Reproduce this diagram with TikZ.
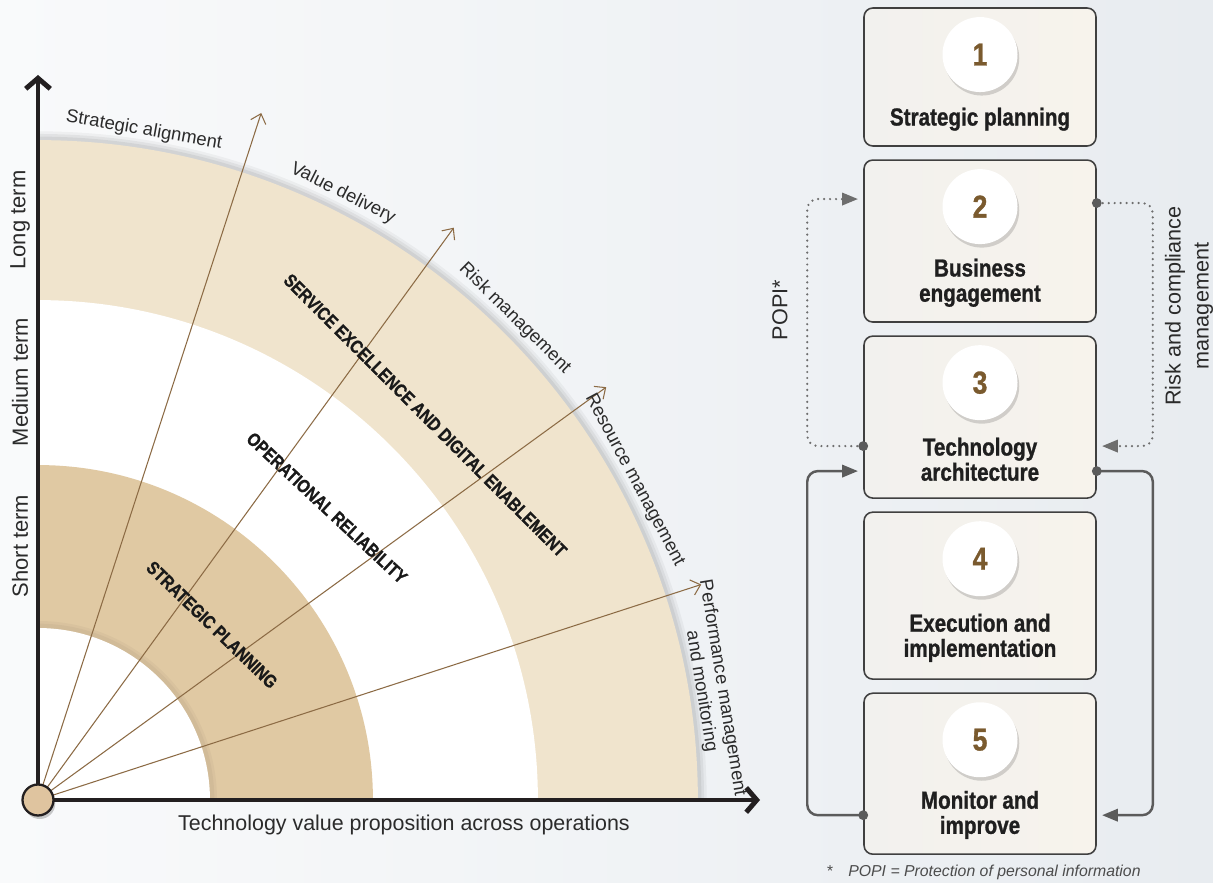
\documentclass[tikz,border=0pt]{standalone}
\usepackage{fontspec}
\setmainfont{Liberation Sans}
\newfontfamily\condfont[FakeStretch=0.84, BoldFont={Liberation Sans Bold}, BoldFeatures={FakeBold=1}]{Liberation Sans}
\usepackage{tikz}
\usetikzlibrary{calc,arrows.meta,positioning,shadows}

\definecolor{bandlight}{HTML}{F0E4CD}
\definecolor{banddark}{HTML}{E0C9A3}
\definecolor{raybrown}{HTML}{8C6B45}
\definecolor{numbrown}{HTML}{7A5A2E}
\definecolor{linegrey}{HTML}{5B5B5B}
\definecolor{dotgrey}{HTML}{6E6E6E}
\definecolor{textgrey}{HTML}{2B2B2B}
\definecolor{axisblack}{HTML}{231F20}
\definecolor{bgleft}{HTML}{F9FAFB}
\definecolor{bgright}{HTML}{E8ECF0}
\definecolor{boxleft}{HTML}{F2F1EE}
\definecolor{boxright}{HTML}{F7F3EC}

\tikzset{
  ray/.style={raybrown, line width=0.6pt, -{Straight Barb[length=5pt,width=9pt]}},
  axisline/.style={axisblack, line width=2.8pt, -{Straight Barb[length=6pt,width=14pt,line width=2.8pt]}},
  arclabel/.style={font=\fontsize{10.5}{12}\selectfont, text=textgrey, inner sep=0pt, align=center},
  bandlabel/.style={font=\condfont\bfseries\fontsize{10.5}{12}\selectfont, text=black!90, inner sep=0pt},
  axislabel/.style={font=\fontsize{12.5}{14}\selectfont, text=textgrey, inner sep=0pt},
  stepbox/.style={draw=black!75, line width=0.9pt, rounded corners=5pt, left color=boxleft, right color=boxright, minimum width=4.64cm, inner sep=0pt},
  numdisc/.style={circle, fill=white, minimum size=1.5cm, inner sep=0pt, font=\condfont\bfseries\fontsize{18}{18}\selectfont, text=numbrown,
    drop shadow={shadow xshift=1pt, shadow yshift=-2pt, opacity=0.15, fill=black}},
  steplabel/.style={font=\condfont\bfseries\fontsize{14}{14.3}\selectfont, text=black!88, align=center, inner sep=0pt},
  sidelabel/.style={font=\fontsize{12.3}{15.9}\selectfont, text=textgrey, align=center, inner sep=0pt, rotate=90},
  solidlink/.style={linegrey, line width=1.4pt, rounded corners=6pt, -{Triangle[length=9pt,width=7pt]}, shorten >=3pt},
  dotlink/.style={dotgrey, line width=1.4pt, line cap=round, dash pattern=on 0pt off 3.4pt, rounded corners=6pt, -{Triangle[length=9pt,width=7pt]}, shorten >=3pt},
}

\begin{document}
\begin{tikzpicture}[x=0.02cm, y=0.02cm]
\useasboundingbox (0,0) rectangle (1213,882);
\shade[left color=bgleft, right color=bgright] (0,0) rectangle (1213,882);

\coordinate (O) at (38,82);
%% 外圈的阴影
\foreach \w/\o in {10pt/0.04, 7pt/0.05, 4pt/0.06}{
  \draw[black, opacity=\o, line width=\w] ($(O)+(0:13.2cm)$) arc[start angle=0, end angle=90, radius=13.2cm];
}
%% 四分之一圆环, 从外往里画
\fill[bandlight] (O) -- ($(O)+(0:13.2cm)$) arc[start angle=0, end angle=90, radius=13.2cm] -- cycle;
\fill[white] (O) -- ($(O)+(0:10cm)$) arc[start angle=0, end angle=90, radius=10cm] -- cycle;
\fill[banddark] (O) -- ($(O)+(0:6.7cm)$) arc[start angle=0, end angle=90, radius=6.7cm] -- cycle;
\foreach \w/\o in {8pt/0.05, 5pt/0.06}{
  \draw[black!60!banddark, opacity=\o, line width=\w] ($(O)+(0:3.44cm)$) arc[start angle=0, end angle=90, radius=3.44cm];
}
\fill[white] (O) -- ($(O)+(0:3.44cm)$) arc[start angle=0, end angle=90, radius=3.44cm] -- cycle;

%% 射线 角度/长度
\foreach \a/\r [count=\k] in {72/14.45, 54/14.15, 36/14.05, 18/13.95}{
  \coordinate (r\k) at ($(O)+(\a:\r cm)$);
  \draw[ray] (O) -- (r\k);
}

%% 圆弧外的标签
\node[arclabel, rotate=-10] (la1) at ($(O)+(81:13.56cm)$) {Strategic alignment};
\node[arclabel, rotate=-26.7] (la2) at ($(O)+(63.3:13.58cm)$) {Value delivery};
\node[arclabel, rotate=-44.7] (la3) at ($(O)+(45.3:13.56cm)$) {Risk management};
\node[arclabel, rotate=-61.8] (la4) at ($(O)+(28.2:13.54cm)$) {Resource management};
\node[arclabel, rotate=-80.7] (la5) at ($(O)+(9.3:13.66cm)$) {Performance management\\and monitoring};

%% 圆环上的标题
\node[bandlabel, rotate=-45] (bl1) at ($(O)+(44.8:10.92cm)$) {SERVICE EXCELLENCE AND DIGITAL ENABLEMENT};
\node[bandlabel, rotate=-43] (bl2) at ($(O)+(45.3:8.22cm)$) {OPERATIONAL RELIABILITY};
\node[bandlabel, rotate=-44] (bl3) at ($(O)+(45.2:4.94cm)$) {STRATEGIC PLANNING};

%% 坐标轴
\coordinate (ytop) at (38,807);
\coordinate (xend) at (760,82);
\draw[axisline] (O) -- (ytop);
\draw[axisline] (O) -- (xend);
\filldraw[fill=banddark!85!brown!90, draw=axisblack, line width=1.3pt, drop shadow={shadow xshift=1pt, shadow yshift=-2pt, opacity=0.2, fill=black}] (O) circle (0.31cm);

\node[axislabel, rotate=90] (long) at (20,662) {Long term};
\node[axislabel, rotate=90] (medium) at (20,500) {Medium term};
\node[axislabel, rotate=90] (short) at (20,336) {Short term};
\node[axislabel, font=\fontsize{12.2}{14}\selectfont] (xlab) at (404,57) {Technology value proposition across operations};

%% 右边的五个步骤
\node[stepbox, minimum height=2.76cm] (b1) at (980,805) {};
\node[stepbox, minimum height=3.24cm, below=0.25cm of b1] (b2) {};
\node[stepbox, minimum height=3.24cm, below=0.25cm of b2] (b3) {};
\node[stepbox, minimum height=3.34cm, below=0.25cm of b3] (b4) {};
\node[stepbox, minimum height=3.22cm, below=0.25cm of b4] (b5) {};

\foreach \k in {1,...,5}{
  \node[numdisc, below=0.19cm of b\k.north] (n\k) {\k};
}
\node[steplabel] (t1) at ($(b1.north)+(0,-112)$) {Strategic planning};
\node[steplabel] (t2) at ($(b2.north)+(0,-123.5)$) {Business\\engagement};
\node[steplabel] (t3) at ($(b3.north)+(0,-124)$) {Technology\\architecture};
\node[steplabel] (t4) at ($(b4.north)+(0,-126.5)$) {Execution and\\implementation};
\node[steplabel] (t5) at ($(b5.north)+(0,-122.5)$) {Monitor and\\improve};

%% 连线的端点
\coordinate (p2l) at ($(b2.west)+(0,42)$);
\coordinate (p2r) at ($(b2.east)+(0,38)$);
\coordinate (p3a) at ($(b3.west)+(0,-29)$);
\coordinate (p3b) at ($(b3.east)+(0,-29)$);
\coordinate (p3c) at ($(b3.west)+(0,-54)$);
\coordinate (p3d) at ($(b3.east)+(0,-54)$);
\coordinate (p5l) at ($(b5.west)+(0,-41.5)$);
\coordinate (p5r) at ($(b5.east)+(0,-41.5)$);

\draw[dotlink] (p3a) -- ++(-56,0) |- (p2l);
\draw[dotlink] (p2r) -- ++(56,0) |- (p3b);
\draw[solidlink] (p5l) -- ++(-56,0) |- (p3c);
\draw[solidlink] (p3d) -- ++(56,0) |- (p5r);
\foreach \p in {p3a,p2r,p5l,p3d}{
  \fill[linegrey] (\p) circle (2.8pt);
}

\node[sidelabel] (popi) at (780,572) {POPI*};
\node[sidelabel] (risk) at (1189,576) {Risk and compliance\\management};
\node[font=\itshape\fontsize{9}{10}\selectfont, text=black!70, anchor=west, inner sep=0pt] (fn) at (826,10) {*\hspace{9pt}POPI = Protection of personal information};
\end{tikzpicture}
\end{document}
